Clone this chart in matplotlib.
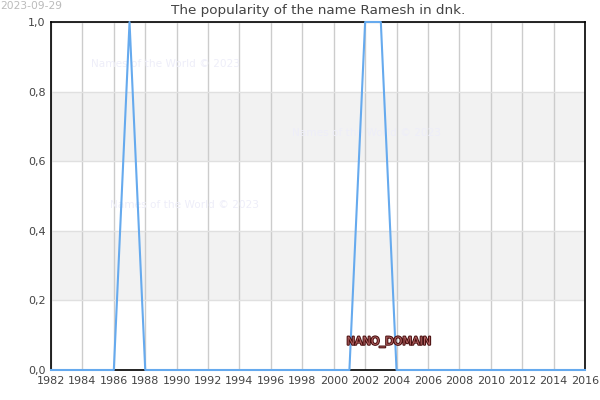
import matplotlib.pyplot as plt
import matplotlib.patheffects as pe
from matplotlib.ticker import FuncFormatter

# ==================== data ====================
years = list(range(1982, 2017))
popularity = [0, 0, 0, 0, 0, 1, 0, 0, 0, 0, 0, 0, 0, 0, 0, 0, 0, 0, 0,
              0, 1, 1, 0, 0, 0, 0, 0, 0, 0, 0, 0, 0, 0, 0, 0]
x_ticks = list(range(1982, 2017, 2))
y_ticks = [0.0, 0.2, 0.4, 0.6, 0.8, 1.0]
band_ranges = [(0.2, 0.4), (0.6, 0.8)]
watermark_spots = [(0.215, 0.88), (0.59, 0.68), (0.25, 0.475)]

title_text = 'The popularity of the name Ramesh in dnk.'
date_text = '2023-09-29'
watermark_text = 'Names of the World © 2023'
domain_text = 'NANO_DOMAIN'

line_color = '#66aaee'
text_color = '#444444'

fig = plt.figure(figsize=(6, 4), dpi=100)
ax = fig.add_axes([0.085, 0.075, 0.89, 0.87])

for lo, hi in band_ranges:
    ax.axhspan(lo, hi, color='#f2f2f2', zorder=0, lw=0)

ax.plot(years, popularity, color=line_color, linewidth=1.5, zorder=5, clip_on=False)

ax.set_xlim(1982, 2016)
ax.set_ylim(0, 1)
ax.set_xticks(x_ticks)
ax.set_yticks(y_ticks)
ax.yaxis.set_major_formatter(FuncFormatter(lambda v, p: f'{v:.1f}'.replace('.', ',')))
ax.tick_params(axis='both', length=0, labelsize=8, colors=text_color, pad=4)
ax.grid(True, axis='x', color='#cccccc', linewidth=1, zorder=1)
ax.grid(True, axis='y', color='#e0e0e0', linewidth=1, zorder=1)
ax.set_axisbelow(True)
for spine in ax.spines.values():
    spine.set_color('black')
    spine.set_linewidth(1.2)
    spine.set_zorder(4)

ax.set_title(title_text, fontsize=9.7, color=text_color, pad=6)
fig.text(0.0, 0.998, date_text, fontsize=7.7, color='#bbbbbb', ha='left', va='top')

for wx, wy in watermark_spots:
    ax.text(wx, wy, watermark_text, transform=ax.transAxes, fontsize=7.6,
            color='#eeeef9', ha='center', va='center', zorder=2)

ax.text(0.633, 0.08, domain_text, transform=ax.transAxes, fontsize=8,
        color='#b06060', ha='center', va='center', zorder=6,
        path_effects=[pe.withStroke(linewidth=1.5, foreground='#4a1010')])

fig.savefig('out.png', dpi=100)
